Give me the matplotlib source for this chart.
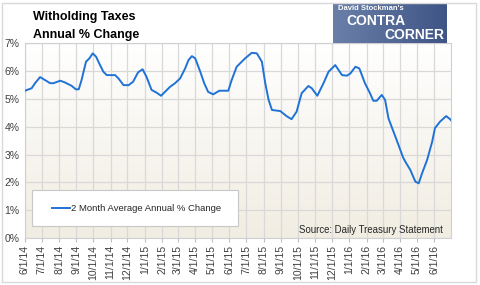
import matplotlib
matplotlib.use('Agg')
import matplotlib.pyplot as plt
import matplotlib.dates as mdates
from matplotlib.patches import Rectangle
import numpy as np
import pandas as pd

plt.rcParams['font.family'] = ['Liberation Sans', 'DejaVu Sans']

# 2 month average annual % change in withholding taxes
dates = ['2014-06-01', '2014-06-13', '2014-06-19', '2014-06-28', '2014-07-07',
         '2014-07-16', '2014-07-22', '2014-08-03', '2014-08-11', '2014-08-23',
         '2014-08-31', '2014-09-05', '2014-09-10', '2014-09-18', '2014-09-24',
         '2014-09-30', '2014-10-06', '2014-10-13', '2014-10-19', '2014-10-25',
         '2014-11-09', '2014-11-15', '2014-11-24', '2014-12-03', '2014-12-11',
         '2014-12-20', '2014-12-28', '2015-01-04', '2015-01-13', '2015-01-22',
         '2015-01-30', '2015-02-06', '2015-02-15', '2015-02-24', '2015-03-05',
         '2015-03-14', '2015-03-20', '2015-03-26', '2015-04-01', '2015-04-10',
         '2015-04-17', '2015-04-24', '2015-05-03', '2015-05-14', '2015-05-30',
         '2015-06-05', '2015-06-14', '2015-06-20', '2015-06-29', '2015-07-11',
         '2015-07-20', '2015-07-29', '2015-08-04', '2015-08-10', '2015-08-16',
         '2015-08-31', '2015-09-11', '2015-09-20', '2015-09-29', '2015-10-08',
         '2015-10-20', '2015-10-26', '2015-11-05', '2015-11-16', '2015-11-25',
         '2015-12-07', '2015-12-19', '2015-12-28', '2016-01-03', '2016-01-12',
         '2016-01-19', '2016-01-29', '2016-02-07', '2016-02-13', '2016-02-19',
         '2016-02-28', '2016-03-05', '2016-03-11', '2016-03-20', '2016-03-29',
         '2016-04-06', '2016-04-10', '2016-04-19', '2016-04-28', '2016-05-04',
         '2016-05-10', '2016-05-19', '2016-05-28', '2016-06-02', '2016-06-11',
         '2016-06-22', '2016-06-29', '2016-07-02']
pct_change = [5.29, 5.38, 5.56, 5.78, 5.67, 5.56, 5.56, 5.65, 5.59, 5.47,
              5.34, 5.34, 5.67, 6.33, 6.45, 6.63, 6.51, 6.21, 5.97, 5.85,
              5.85, 5.73, 5.49, 5.49, 5.61, 5.95, 6.06, 5.79, 5.32, 5.22,
              5.11, 5.25, 5.43, 5.56, 5.73, 6.09, 6.39, 6.53, 6.45, 5.97,
              5.56, 5.25, 5.16, 5.29, 5.29, 5.67, 6.15, 6.27, 6.45, 6.65,
              6.63, 6.33, 5.56, 4.96, 4.60, 4.56, 4.38, 4.27, 4.54, 5.20,
              5.46, 5.38, 5.11, 5.56, 5.97, 6.21, 5.85, 5.83, 5.91, 6.15,
              6.09, 5.56, 5.20, 4.93, 4.93, 5.14, 4.96, 4.30, 3.82, 3.34,
              2.90, 2.75, 2.45, 2.03, 1.97, 2.33, 2.81, 3.46, 3.95, 4.18,
              4.38, 4.27, 4.20]

yticks = [0, 1, 2, 3, 4, 5, 6, 7]
series_label = '2 Month Average Annual % Change'
source_text = 'Source: Daily Treasury Statement'

x = pd.to_datetime(dates)
x0, x1 = pd.Timestamp('2014-06-01'), pd.Timestamp('2016-07-01')

fig = plt.figure(figsize=(4.8, 2.85), dpi=100)
ax = fig.add_axes([0.052, 0.164, 0.888, 0.685])

# gradient background: white at top fading to beige
grad = np.linspace(0, 1, 256).reshape(-1, 1)
top_c = np.array([1.0, 1.0, 1.0])
bot_c = np.array([0xf1, 0xed, 0xe2]) / 255
img = top_c * (1 - grad[..., None]) + bot_c * grad[..., None]
ax.imshow(img, extent=[mdates.date2num(x0), mdates.date2num(x1), 0, 7],
          aspect='auto', origin='upper', zorder=0)

ax.plot(x, pct_change, color='#1f72d6', lw=1.4, zorder=3)

ax.set_xlim(x0, x1)
ax.set_ylim(0, 7)
ax.set_yticks(yticks)
ax.set_yticklabels(['%d%%' % v for v in yticks])
ax.xaxis.set_major_locator(mdates.MonthLocator())
ax.xaxis.set_major_formatter(
    matplotlib.ticker.FuncFormatter(lambda v, p: '%d/%d/%s' % (
        mdates.num2date(v).month, mdates.num2date(v).day,
        mdates.num2date(v).strftime('%y'))))
ax.set_xticks([t for t in ax.get_xticks() if t < mdates.date2num(pd.Timestamp('2016-06-15'))])
plt.setp(ax.get_xticklabels(), rotation=90, fontsize=7.5, color='#404040')
plt.setp(ax.get_yticklabels(), fontsize=7.5, color='#404040')
ax.tick_params(axis='y', length=0, pad=4)
ax.tick_params(axis='x', length=3, color='#bfbfbf', pad=2)

ax.grid(True, color='#d9d9d9', lw=0.9, zorder=1)
ax.set_axisbelow(True)
for s in ax.spines.values():
    s.set_color('#d0d0d0')
    s.set_linewidth(0.8)

# legend box
ax.add_patch(Rectangle((0.016, 0.063), 0.484, 0.184, transform=ax.transAxes,
                       facecolor='white', edgecolor='#c8c8c8', lw=0.8, zorder=4))
ax.plot([0.063, 0.106], [0.155, 0.155], transform=ax.transAxes,
        color='#1f72d6', lw=1.4, zorder=5)
ax.text(0.108, 0.155, series_label, transform=ax.transAxes, fontsize=6.8,
        va='center', ha='left', color='#262626', zorder=5)

ax.text(0.981, 0.042, source_text, transform=ax.transAxes, fontsize=6.9,
        ha='right', va='center', color='#262626', zorder=5)

# titles
fig.text(0.069, 0.94, 'Witholding Taxes', fontsize=9, fontweight='bold',
         va='center', ha='left')
fig.text(0.069, 0.877, 'Annual % Change', fontsize=9, fontweight='bold',
         va='center', ha='left')

# logo placeholder
logo = fig.add_axes([0.694, 0.849, 0.237, 0.14])
logo.set_xlim(0, 1)
logo.set_ylim(0, 1)
lg = np.linspace(0, 1, 64).reshape(1, -1)
lc = np.array([0x6a, 0x7f, 0xa8]) / 255 * (1 - lg[..., None]) + np.array([0x3f, 0x55, 0x86]) / 255 * lg[..., None]
logo.imshow(lc, extent=[0, 1, 0, 1], aspect='auto')
logo.text(0.04, 0.86, "David Stockman's", color='white', fontsize=5.5,
          fontweight='bold', va='center')
logo.text(0.12, 0.55, 'CONTRA', color='white', fontsize=10, fontweight='bold',
          va='center')
logo.text(0.45, 0.2, 'CORNER', color='white', fontsize=10, fontweight='bold',
          va='center')
logo.axis('off')

# outer frame
fig.patches.append(Rectangle((0.004, 0.01), 0.988, 0.98, transform=fig.transFigure,
                             fill=False, edgecolor='#d9d9d9', lw=1))

fig.savefig('out.png', dpi=100)
